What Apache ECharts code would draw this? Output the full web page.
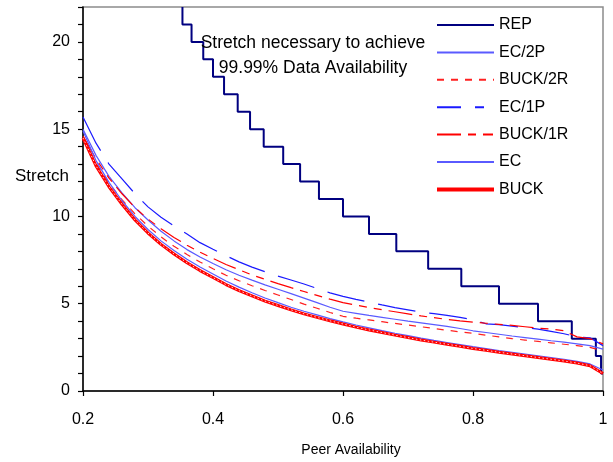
<!DOCTYPE html>
<html>
<head>
<meta charset="utf-8">
<script src="https://cdn.jsdelivr.net/npm/echarts@6/dist/echarts.min.js"></script>
<style>
  html, body { margin: 0; padding: 0; background: #fff; }
  #chart { width: 613px; height: 462px; }
</style>
</head>
<body>
<div id="chart"></div>
<script>
// Peer availability sample points shared by the six erasure/bucket curves
const peerAvail = [0.20, 0.22, 0.24, 0.26, 0.28, 0.30, 0.32, 0.34, 0.36, 0.38,
                   0.40, 0.42, 0.44, 0.46, 0.48, 0.50, 0.52, 0.54, 0.56, 0.58,
                   0.60, 0.62, 0.64, 0.66, 0.68, 0.70, 0.72, 0.74, 0.76, 0.78,
                   0.80, 0.82, 0.84, 0.86, 0.88, 0.90, 0.92, 0.94, 0.96, 0.98, 1.00];

// Replication: staircase (availability where the stretch drops, new stretch level)
const repX = [0.353, 0.353, 0.367, 0.385, 0.400, 0.417, 0.438, 0.457, 0.478, 0.508,
              0.534, 0.563, 0.600, 0.640, 0.682, 0.731, 0.782, 0.840, 0.900, 0.952,
              0.989, 0.997, 1.000];
const repY = [22, 21, 20, 19, 18, 17, 16, 15, 14, 13,
              12, 11, 10, 9, 8, 7, 6, 5, 4, 3,
              2, 1, 1];

const ec2p = [15.0, 13.5, 12.3, 11.35, 10.5, 9.8, 9.15, 8.6, 8.1, 7.68,
              7.3, 6.95, 6.63, 6.35, 6.08, 5.83, 5.58, 5.32, 5.06, 4.8,
              4.57, 4.45, 4.33, 4.22, 4.11, 4.0, 3.9, 3.8, 3.7, 3.58,
              3.45, 3.35, 3.25, 3.15, 3.06, 2.97, 2.88, 2.8, 2.7, 2.6, 2.4];
const buck2r = [14.4, 13.05, 11.9, 10.96, 10.15, 9.45, 8.83, 8.29, 7.82, 7.39,
                7.0, 6.63, 6.32, 6.03, 5.76, 5.5, 5.24, 4.98, 4.74, 4.5,
                4.28, 4.17, 4.07, 3.97, 3.87, 3.78, 3.68, 3.58, 3.48, 3.39,
                3.3, 3.2, 3.1, 3.0, 2.92, 2.84, 2.76, 2.68, 2.6, 2.5, 2.3];
const ec1p = [15.7, 14.2, 13.0, 12.15, 11.3, 10.55, 9.95, 9.45, 9.0, 8.5,
              8.12, 7.75, 7.4, 7.1, 6.83, 6.58, 6.36, 6.13, 5.88, 5.62,
              5.42, 5.25, 5.1, 4.93, 4.78, 4.65, 4.52, 4.43, 4.33, 4.22,
              4.08, 3.85, 3.8, 3.72, 3.63, 3.55, 3.42, 3.28, 3.1, 3.05, 2.6];
const buck1r = [14.6, 13.3, 12.2, 11.3, 10.5, 9.85, 9.3, 8.8, 8.35, 7.95,
                7.6, 7.25, 6.95, 6.65, 6.4, 6.15, 5.92, 5.7, 5.48, 5.26,
                5.06, 4.92, 4.78, 4.66, 4.54, 4.42, 4.3, 4.2, 4.1, 4.02,
                3.95, 3.88, 3.82, 3.76, 3.68, 3.6, 3.55, 3.45, 3.1, 3.0, 2.7];
const ecPlain = [14.9, 13.2, 11.95, 10.9, 10.0, 9.25, 8.6, 8.05, 7.55, 7.1,
                 6.7, 6.3, 5.95, 5.63, 5.33, 5.06, 4.8, 4.57, 4.36, 4.15,
                 3.96, 3.78, 3.62, 3.46, 3.31, 3.17, 3.03, 2.9, 2.78, 2.66,
                 2.54, 2.43, 2.32, 2.22, 2.12, 2.02, 1.92, 1.82, 1.7, 1.55, 1.2];
const buck = [14.5, 12.9, 11.7, 10.7, 9.8, 9.05, 8.4, 7.85, 7.35, 6.9,
              6.5, 6.1, 5.75, 5.45, 5.15, 4.9, 4.65, 4.42, 4.22, 4.02,
              3.84, 3.66, 3.5, 3.35, 3.2, 3.06, 2.92, 2.8, 2.68, 2.56,
              2.44, 2.33, 2.22, 2.12, 2.02, 1.92, 1.82, 1.72, 1.6, 1.45, 1.0];

const xTicks = [0.2, 0.4, 0.6, 0.8, 1];
const yTicks = [0, 5, 10, 15, 20];

const FONT = '"Liberation Sans", Arial, sans-serif';

function pairs(xsArr, ysArr) {
  return xsArr.map((x, i) => [x, ysArr[i]]);
}

const chart = echarts.init(document.getElementById('chart'), null, { renderer: 'canvas' });

const lineSeries = (name, values, color, width, type) => ({
  name: name,
  type: 'line',
  data: pairs(peerAvail, values),
  symbol: 'none',
  showSymbol: false,
  smooth: false,
  clip: true,
  lineStyle: { color: color, width: width, type: type },
  itemStyle: { color: color },
  emphasis: { disabled: true },
  animation: false
});

// white speckle drawn over the thick BUCK line
const buckSpeckle = {
  name: 'BUCK-speckle', type: 'line', data: pairs(peerAvail, buck),
  symbol: 'none', showSymbol: false, clip: true, silent: true,
  lineStyle: { color: '#ffd0d0', width: 1, type: [1.5, 2.5] },
  emphasis: { disabled: true }, animation: false
};

chart.setOption({
  animation: false,
  backgroundColor: '#ffffff',
  grid: {
    left: 83, right: 10, top: 7, bottom: 70,
    show: true, borderColor: '#8c8c8c', borderWidth: 1.5, backgroundColor: 'transparent'
  },
  title: {
    text: 'Stretch necessary to achieve\n99.99% Data Availability',
    left: 308, top: 26, textAlign: 'center',
    textStyle: { fontFamily: FONT, fontSize: 17.5, fontWeight: 'normal', color: '#000', lineHeight: 25 }
  },
  legend: {
    orient: 'vertical',
    left: 430, top: 12,
    itemWidth: 57, itemHeight: 14, itemGap: 11.4,
    itemStyle: { opacity: 0 },
    textStyle: { fontFamily: FONT, fontSize: 16, color: '#000' },
    data: [
      { name: 'REP' },
      { name: 'EC/2P' },
      { name: 'BUCK/2R', lineStyle: { type: [7, 7] } },
      { name: 'EC/1P', lineStyle: { type: [24, 14, 9, 10] } },
      { name: 'BUCK/1R', lineStyle: { type: [24, 7, 8, 7, 10, 1] } },
      { name: 'EC' },
      { name: 'BUCK', lineStyle: { width: 4 } }
    ]
  },
  xAxis: {
    type: 'value', min: 0.2, max: 1, interval: 0.2,
    name: 'Peer Availability', nameLocation: 'middle', nameGap: 52,
    nameTextStyle: { fontFamily: FONT, fontSize: 14, color: '#000', padding: [0, 0, 0, 16] },
    axisLine: { show: true, lineStyle: { color: '#000', width: 1.5 } },
    axisTick: { show: true, length: 5, inside: false, lineStyle: { color: '#000', width: 1.2 } },
    axisLabel: {
      fontFamily: FONT, fontSize: 16, color: '#000', margin: 21,
      formatter: v => {
        const t = xTicks.find(k => Math.abs(k - v) < 1e-9);
        return t === undefined ? '' : String(t);
      }
    },
    splitLine: { show: false }
  },
  yAxis: {
    type: 'value', min: 0, max: 22, interval: 5,
    axisLine: { show: true, lineStyle: { color: '#000', width: 1.5 } },
    axisTick: { show: true, length: 5, lineStyle: { color: '#000', width: 1.2 } },
    minorTick: { show: true, splitNumber: 5, length: 5, lineStyle: { color: '#000', width: 1.2 } },
    axisLabel: {
      fontFamily: FONT, fontSize: 16, color: '#000', margin: 13,
      formatter: v => (yTicks.indexOf(v) >= 0 ? String(v) : '')
    },
    splitLine: { show: false }
  },
  graphic: [
    {
      type: 'text', left: 15, top: 168,
      style: { text: 'Stretch', fontFamily: FONT, fontSize: 17, fill: '#000' }
    }
  ],
  series: [
    {
      name: 'REP', type: 'line', data: pairs(repX, repY), step: 'end',
      symbol: 'none', showSymbol: false, clip: true,
      lineStyle: { color: '#000080', width: 2 }, itemStyle: { color: '#000080' },
      emphasis: { disabled: true }, animation: false
    },
    lineSeries('EC/2P', ec2p, '#5a5aff', 1.2, 'solid'),
    lineSeries('BUCK/2R', buck2r, '#ff2020', 1.2, [7, 7]),
    lineSeries('EC/1P', ec1p, '#1a1aff', 1.2, [38, 14]),
    lineSeries('BUCK/1R', buck1r, '#ff0000', 1.2, [24, 7, 8, 7, 8, 7]),
    lineSeries('EC', ecPlain, '#5a5aff', 1.2, 'solid'),
    lineSeries('BUCK', buck, '#ff0000', 3, 'solid'),
    buckSpeckle
  ]
});
</script>
</body>
</html>
